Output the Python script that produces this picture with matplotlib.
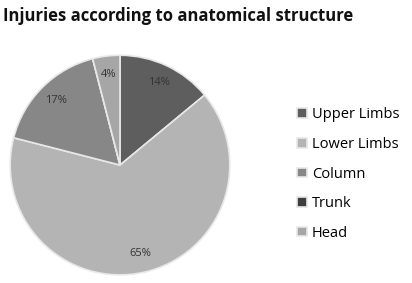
import matplotlib.pyplot as plt

# data
labels = ["Upper Limbs", "Lower Limbs", "Column", "Trunk", "Head"]
values = [14, 65, 17, 0, 4]
colors = ["#5e5e5e", "#b4b4b4", "#878787", "#3e3e3e", "#a6a6a6"]

plt.rcParams['font.family'] = ['Open Sans', 'DejaVu Sans']

fig = plt.figure(figsize=(4.12, 2.83), dpi=100)
ax = fig.add_axes([0.0194, 0.021, 0.5437, 0.7915])

def fmt(p):
    return "%d%%" % round(p) if p > 0.5 else ""

wedges, texts, autotexts = ax.pie(values, colors=colors, startangle=90, counterclock=False,
                                  autopct=fmt, pctdistance=0.83,
                                  wedgeprops=dict(edgecolor="#e8e8e8", linewidth=1.2),
                                  textprops=dict(fontsize=8, color="#333333"))
ax.set_xlim(-1.02, 1.02)
ax.set_ylim(-1.02, 1.02)
ax.set_aspect("equal")

fig.text(0.008, 0.945, "Injuries according to anatomical structure", fontsize=12,
         fontweight="bold", color="#111111", va="center")

leg = fig.legend(wedges, labels, loc="center left", bbox_to_anchor=(0.69, 0.385),
                 frameon=False, fontsize=10.5, handlelength=0.65, handleheight=0.65,
                 handletextpad=0.35, labelspacing=1.0)

fig.savefig("out.png", dpi=100)
